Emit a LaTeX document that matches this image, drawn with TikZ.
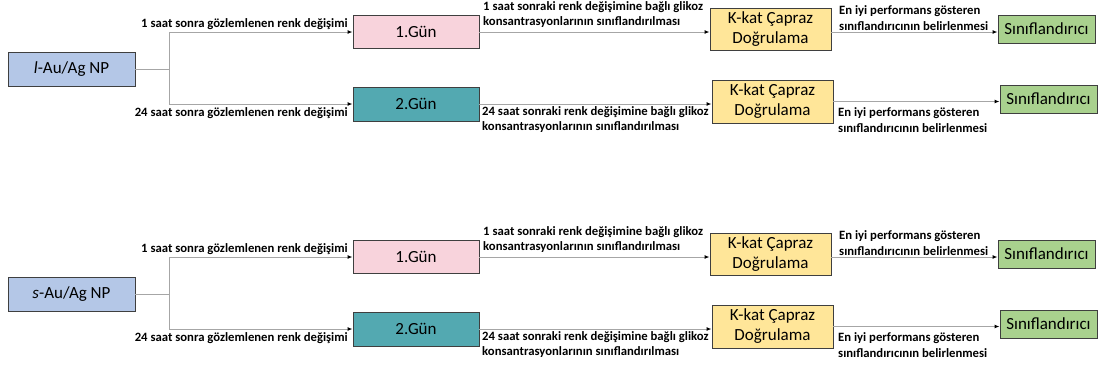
\documentclass[tikz,border=0pt]{standalone}
\usepackage{fontspec}
\setmainfont{Carlito}
\usetikzlibrary{arrows.meta}

\definecolor{npfill}{HTML}{B4C7E7}
\definecolor{dayone}{HTML}{F8D3DC}
\definecolor{daytwo}{HTML}{53A9B1}
\definecolor{cvfill}{HTML}{FFE699}
\definecolor{clsfill}{HTML}{A9D18E}
\definecolor{edge}{HTML}{3F3F3F}
\definecolor{wire}{HTML}{A6A6A6}

\tikzset{
  box/.style={draw=edge, line width=0.9pt, inner sep=0pt, align=center,
    font=\fontsize{17}{20}\selectfont},
  lbl/.style={inner sep=0pt, font=\fontsize{12.7}{15.5}\selectfont\bfseries, align=left},
  wireline/.style={draw=wire, line width=1pt},
  arr/.style={wireline, -{Latex[black,length=5pt,width=4pt]}}
}

% One branch of the workflow: nanoparticle -> two days -> cross-validation -> classifier
\newcommand\flowgroup[3]{%
\begin{scope}[shift={(0,#2)}]
  \node[box, fill=npfill, minimum width=127pt, minimum height=34pt] (#1np) at (71.5,69) {#3};
  \node[box, fill=dayone, minimum width=126pt, minimum height=33pt] (#1d1) at (416,32) {1.Gün};
  \node[box, fill=daytwo, minimum width=126pt, minimum height=34pt] (#1d2) at (416,104) {2.Gün};
  \node[box, fill=cvfill, minimum width=121pt, minimum height=42pt] (#1k1) at (770.5,29) {K-kat Çapraz\\Doğrulama};
  \node[box, fill=cvfill, minimum width=121pt, minimum height=43pt] (#1k2) at (772.5,101.5) {K-kat Çapraz\\Doğrulama};
  \node[box, fill=clsfill, minimum width=97pt, minimum height=28pt] (#1s1) at (1046.5,29) {Sınıflandırıcı};
  \node[box, fill=clsfill, minimum width=97pt, minimum height=28pt] (#1s2) at (1048.5,99) {Sınıflandırıcı};
  \coordinate (#1br) at (169,69);
  % connectors
  \draw[wireline] (#1np.east) -- (#1br);
  \draw[arr] (#1br) |- (#1d1.west);
  \draw[arr] (#1br) |- (#1d2.west);
  \draw[arr] (#1d1.east) -- (#1d1.east -| #1k1.west);
  \draw[arr] (#1d2.east) -- (#1d2.east -| #1k2.west);
  \draw[arr] (#1k1.east |- #1d1.east) -- (#1s1.west |- #1d1.east);
  \draw[arr] (#1k2.east) -- (#1k2.east -| #1s2.west);
  % labels
  \node[lbl, anchor=east] (#1t1) at (348,24) {1 saat sonra gözlemlenen renk değişimi};
  \node[lbl, anchor=east] (#1t2) at (348,113) {24 saat sonra gözlemlenen renk değişimi};
  \node[lbl, anchor=west] (#1t3) at (483,14.5) {1 saat sonraki renk değişimine bağlı glikoz\\konsantrasyonlarının sınıflandırılması};
  \node[lbl, anchor=west] (#1t4) at (482,119.5) {24 saat sonraki renk değişimine bağlı glikoz\\konsantrasyonlarının sınıflandırılması};
  \node[lbl, anchor=west] (#1t5) at (839,18) {En iyi performans gösteren\\sınıflandırıcının belirlenmesi};
  \node[lbl, anchor=west] (#1t6) at (838,120) {En iyi performans gösteren\\sınıflandırıcının belirlenmesi};
\end{scope}}

\begin{document}
\begin{tikzpicture}[x=1pt, y=-1pt]
  \useasboundingbox (0,0) rectangle (1101,368);
  \fill[white] (0,0) rectangle (1101,368);
  \flowgroup{a}{0}{\textit{l}-Au/Ag NP}
  \flowgroup{b}{225}{\textit{s}-Au/Ag NP}
\end{tikzpicture}
\end{document}
